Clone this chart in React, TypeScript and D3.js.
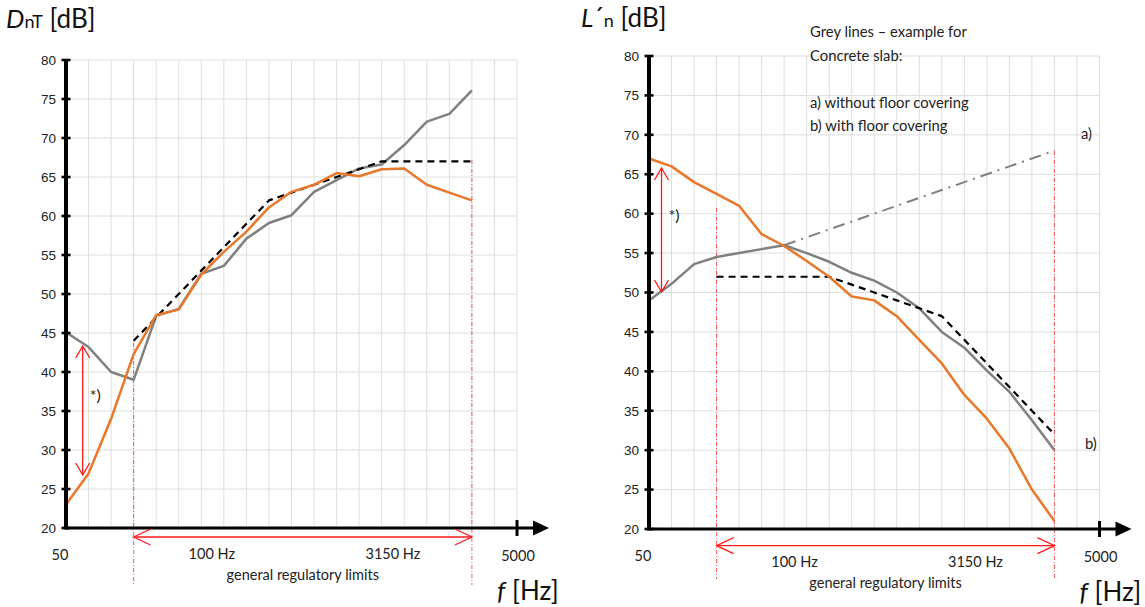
import React from "react";
import * as d3 from "d3";

// 1/3-octave band centre frequencies (Hz)
const bands = ["50","63","80","100","125","160","200","250","315","400","500","630","800","1000","1250","1600","2000","2500","3150","4000","5000"];
const yTicks = [20,25,30,35,40,45,50,55,60,65,70,75,80];

// Left chart: D_nT [dB]
const leftMeasured = [23,27,34,42.3,47.3,48,52.5,55.4,58,61.1,63.1,64,65.5,65.1,66,66.1,64,63,62]; // from 50 Hz
const leftExample = [45.1,43.2,40,39,47.2,48.1,52.6,53.6,57.1,59.1,60.1,63.1,64.6,66.1,66.6,69.1,72.1,73.1,76.1]; // from 50 Hz
const leftReference = [44,47,50,53,56,59,62,63,64,65,66,67,67,67,67,67]; // from 100 Hz

// Right chart: L'n [dB]
const rightMeasured = [67,66,64,62.5,61,57.4,55.9,54,52,49.5,49,47,44,41,37,34,30.2,25,21]; // from 50 Hz
const rightExampleB = [49,51.1,53.6,54.5,55,55.5,56,55,53.9,52.5,51.5,50,48,45,43,40.1,37.4,33.8,30]; // from 50 Hz
const rightExampleA = [56,57,58,59,60,61,62,63,64,65,66,67,68]; // from 200 Hz
const rightReference = [52,52,52,52,52,52,51,50,49,48,47,44,41,38,35,32]; // from 100 Hz

const legendLines = ["Grey lines \u2013 example for", "Concrete slab:", "", "a) without floor covering", "b) with floor covering"];

const ORANGE = "#e8782a";
const GREY = "#808080";
const RED = "#ff1a1a";
const TXT = "Lato, 'Open Sans', sans-serif";
const NUM = "'Liberation Sans', Arial, sans-serif";

type Series = { values: number[]; start: string; color: string; width: number; dash?: string };

function Panel(props: {
  x0: number; x1: number; yTop: number; yBot: number;
  series: Series[];
  arrowY: number; dotTop100: number; dotTop3150: number; dotBottom: number;
  vArrowX: number; vArrowTop: number; vArrowBot: number; starY: number;
  labelY100: number; labelYLimits: number;
}) {
  const { x0, x1, yTop, yBot } = props;
  const x = d3.scalePoint<string>().domain(bands).range([x0, x1]);
  const y = d3.scaleLinear().domain([20, 80]).range([yBot, yTop]);
  const mkLine = (s: Series) => {
    const off = bands.indexOf(s.start);
    return d3.line<number>().x((_, i) => x(bands[i + off]) as number).y((d) => y(d))(s.values) || "";
  };
  const x100 = x("100") as number;
  const x3150 = x("3150") as number;
  const x5000 = x("5000") as number;
  const ah = 17, aw = 8;
  const vh = 12, vw = 7;
  return (
    <g>
      {/* grid */}
      {yTicks.map((t) => (
        <line key={"h" + t} x1={x0} x2={x5000} y1={y(t)} y2={y(t)} stroke="#dedede" strokeWidth={1} />
      ))}
      {bands.map((b) => (
        <line key={"v" + b} x1={x(b)} x2={x(b)} y1={yTop} y2={yBot} stroke="#dedede" strokeWidth={1} />
      ))}
      {/* red dotted limits */}
      <line x1={x100} x2={x100} y1={props.dotTop100} y2={props.dotBottom} stroke={RED} strokeWidth={1} strokeDasharray="4,2,1,2" opacity={0.7} />
      <line x1={x3150} x2={x3150} y1={props.dotTop3150} y2={props.dotBottom} stroke={RED} strokeWidth={1} strokeDasharray="4,2,1,2" opacity={0.7} />
      {/* series */}
      {props.series.map((s, i) => (
        <path key={i} d={mkLine(s)} fill="none" stroke={s.color} strokeWidth={s.width} strokeDasharray={s.dash} strokeLinejoin="round" />
      ))}
      {/* axes */}
      <line x1={x0} x2={x0} y1={yTop} y2={yBot + 1.5} stroke="#000" strokeWidth={4} />
      {yTicks.map((t) => (
        <g key={"t" + t}>
          <line x1={x0 - 4.5} x2={x0 + 4.5} y1={y(t)} y2={y(t)} stroke="#000" strokeWidth={2.6} />
          <text x={x0 - 10} y={y(t) + 4.8} textAnchor="end" fontFamily={NUM} fontSize={13.5} fill="#222">{t}</text>
        </g>
      ))}
      <line x1={x0} x2={x5000 + 18} y1={yBot} y2={yBot} stroke="#000" strokeWidth={3} />
      <line x1={x5000} x2={x5000} y1={yBot - 8} y2={yBot + 8} stroke="#000" strokeWidth={3} />
      <path d={`M${x5000 + 16},${yBot - 7.5} L${x5000 + 32},${yBot} L${x5000 + 16},${yBot + 7.5} Z`} fill="#000" />
      {/* x labels */}
      <text x={x0 - 6} y={yBot + 32} textAnchor="middle" fontFamily={TXT} fontSize={14.5} fill="#222">50</text>
      <text x={x5000 + 1} y={yBot + 33} textAnchor="middle" fontFamily={TXT} fontSize={14.5} fill="#222">5000</text>
      <text x={(x100 + x3150) / 2 - 91} y={props.labelY100} textAnchor="middle" fontFamily={TXT} fontSize={14.5} fill="#222">100 Hz</text>
      <text x={x3150 - 79} y={props.labelY100} textAnchor="middle" fontFamily={TXT} fontSize={14.5} fill="#222">3150 Hz</text>
      <text x={(x100 + x3150) / 2} y={props.labelYLimits} textAnchor="middle" fontFamily={TXT} fontSize={14.5} fill="#222">general regulatory limits</text>
      <text x={x5000 - 20} y={yBot + 72} fontFamily={TXT} fontSize={26} fill="#111">
        <tspan fontStyle="italic">f</tspan> [Hz]
      </text>
      {/* horizontal red arrow */}
      <line x1={x100} x2={x3150} y1={props.arrowY} y2={props.arrowY} stroke={RED} strokeWidth={1.3} />
      <path d={`M${x100 + ah},${props.arrowY - aw} L${x100},${props.arrowY} L${x100 + ah},${props.arrowY + aw}`} fill="none" stroke={RED} strokeWidth={1.3} />
      <path d={`M${x3150 - ah},${props.arrowY - aw} L${x3150},${props.arrowY} L${x3150 - ah},${props.arrowY + aw}`} fill="none" stroke={RED} strokeWidth={1.3} />
      {/* vertical red arrow */}
      <line x1={props.vArrowX} x2={props.vArrowX} y1={props.vArrowTop} y2={props.vArrowBot} stroke={RED} strokeWidth={1.3} />
      <path d={`M${props.vArrowX - vw},${props.vArrowTop + vh} L${props.vArrowX},${props.vArrowTop} L${props.vArrowX + vw},${props.vArrowTop + vh}`} fill="none" stroke={RED} strokeWidth={1.3} />
      <path d={`M${props.vArrowX - vw},${props.vArrowBot - vh} L${props.vArrowX},${props.vArrowBot} L${props.vArrowX + vw},${props.vArrowBot - vh}`} fill="none" stroke={RED} strokeWidth={1.3} />
      <text x={props.vArrowX + 7} y={props.starY} fontFamily={TXT} fontSize={16} fill="#222">*)</text>
    </g>
  );
}

export default function App() {
  return (
    <svg width={1145} height={607} style={{ position: "absolute", left: 0, top: 0, background: "#fff" }}>
      <rect width={1145} height={607} fill="#fff" />
      <text x={6} y={28} fontFamily={TXT} fontSize={26} fill="#111">
        <tspan fontStyle="italic">D</tspan><tspan fontSize={18}>nT</tspan> [dB]
      </text>
      <text x={581} y={27} fontFamily={TXT} fontSize={26} fill="#111">
        <tspan fontStyle="italic">L</tspan>{"\u00B4"}<tspan fontSize={18}>n</tspan> [dB]
      </text>
      <Panel
        x0={66} x1={517} yTop={60} yBot={528}
        series={[
          { values: leftExample, start: "50", color: GREY, width: 2.5 },
          { values: leftReference, start: "100", color: "#000", width: 2.2, dash: "7,5" },
          { values: leftMeasured, start: "50", color: ORANGE, width: 2.5 },
        ]}
        arrowY={537} dotTop100={343} dotTop3150={160} dotBottom={585}
        vArrowX={82.7} vArrowTop={346} vArrowBot={475} starY={401}
        labelY100={559} labelYLimits={580}
      />
      <Panel
        x0={649} x1={1099.5} yTop={56} yBot={529}
        series={[
          { values: rightExampleA, start: "200", color: GREY, width: 2, dash: "12,6,2,6" },
          { values: rightExampleB, start: "50", color: GREY, width: 2.5 },
          { values: rightReference, start: "100", color: "#000", width: 2.2, dash: "7,5" },
          { values: rightMeasured, start: "50", color: ORANGE, width: 2.5 },
        ]}
        arrowY={545.7} dotTop100={208} dotTop3150={151} dotBottom={579}
        vArrowX={661.5} vArrowTop={168} vArrowBot={292} starY={221}
        labelY100={567} labelYLimits={588}
      />
      {legendLines.map((l, i) => (
        <text key={i} x={810} y={37 + i * 23.5} fontFamily={TXT} fontSize={14.8} fill="#222">{l}</text>
      ))}
      <text x={1081} y={139} fontFamily={TXT} fontSize={14.8} fill="#222">a)</text>
      <text x={1085} y={449} fontFamily={TXT} fontSize={14.8} fill="#222">b)</text>
    </svg>
  );
}
